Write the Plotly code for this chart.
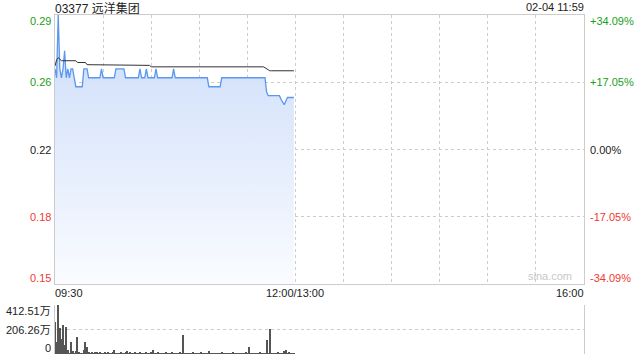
import plotly.graph_objects as go

# ---- data ----
stock_title = "03377 远洋集团"
stamp = "02-04 11:59"
prev_close = 0.22

minutes = list(range(150))  # trading minutes from 09:30

price = [
    0.265, 0.26, 0.295, 0.265, 0.26, 0.265, 0.275, 0.26, 0.265, 0.26,
    0.265, 0.265, 0.26, 0.255, 0.255, 0.255, 0.255, 0.255, 0.265, 0.265,
    0.265, 0.26, 0.26, 0.26, 0.26, 0.26, 0.26, 0.26, 0.26, 0.265,
    0.26, 0.26, 0.26, 0.26, 0.26, 0.26, 0.26, 0.26, 0.265, 0.265,
    0.265, 0.265, 0.265, 0.265, 0.26, 0.26, 0.26, 0.26, 0.26, 0.26,
    0.26, 0.26, 0.26, 0.265, 0.26, 0.26, 0.26, 0.265, 0.26, 0.26,
    0.26, 0.26, 0.26, 0.265, 0.26, 0.26, 0.26, 0.26, 0.26, 0.26,
    0.26, 0.26, 0.26, 0.26, 0.265, 0.26, 0.26, 0.26, 0.26, 0.26,
    0.26, 0.26, 0.26, 0.26, 0.26, 0.26, 0.26, 0.26, 0.26, 0.26,
    0.26, 0.26, 0.26, 0.26, 0.26, 0.26, 0.255, 0.255, 0.255, 0.255,
    0.255, 0.255, 0.255, 0.255, 0.26, 0.26, 0.26, 0.26, 0.26, 0.26,
    0.26, 0.26, 0.26, 0.26, 0.26, 0.26, 0.26, 0.26, 0.26, 0.26,
    0.26, 0.26, 0.26, 0.26, 0.26, 0.26, 0.26, 0.26, 0.26, 0.26,
    0.26, 0.26, 0.252, 0.25, 0.25, 0.25, 0.25, 0.25, 0.25, 0.25,
    0.25, 0.248, 0.246, 0.245, 0.247, 0.249, 0.249, 0.249, 0.249, 0.249,
]

avg_price = [
    0.2665, 0.2700, 0.2712, 0.2705, 0.2695, 0.2695, 0.2695, 0.2695, 0.2695, 0.2695,
    0.2695, 0.2695, 0.2695, 0.2695, 0.2685, 0.2685, 0.2685, 0.2685, 0.2685, 0.2685,
    0.2673, 0.2673, 0.2673, 0.2673, 0.2673, 0.2673, 0.2673, 0.2673, 0.2673, 0.2673,
    0.2673, 0.2673, 0.2673, 0.2673, 0.2673, 0.2673, 0.2673, 0.2673, 0.2673, 0.2673,
    0.2669, 0.2669, 0.2669, 0.2669, 0.2669, 0.2669, 0.2669, 0.2669, 0.2669, 0.2669,
    0.2669, 0.2669, 0.2669, 0.2669, 0.2669, 0.2669, 0.2669, 0.2669, 0.2669, 0.2669,
    0.2661, 0.2661, 0.2661, 0.2661, 0.2661, 0.2661, 0.2661, 0.2661, 0.2661, 0.2661,
    0.2661, 0.2661, 0.2661, 0.2661, 0.2661, 0.2661, 0.2661, 0.2661, 0.2661, 0.2661,
    0.2661, 0.2661, 0.2661, 0.2661, 0.2661, 0.2661, 0.2661, 0.2661, 0.2661, 0.2661,
    0.2661, 0.2661, 0.2661, 0.2661, 0.2661, 0.2661, 0.2661, 0.2661, 0.2661, 0.2661,
    0.2661, 0.2661, 0.2661, 0.2661, 0.2661, 0.2661, 0.2661, 0.2661, 0.2661, 0.2661,
    0.2661, 0.2661, 0.2661, 0.2661, 0.2661, 0.2661, 0.2661, 0.2661, 0.2661, 0.2661,
    0.2661, 0.2661, 0.2661, 0.2661, 0.2661, 0.2661, 0.2661, 0.2661, 0.2661, 0.2661,
    0.2661, 0.2656, 0.2649, 0.2643, 0.2639, 0.2639, 0.2639, 0.2639, 0.2639, 0.2639,
    0.2639, 0.2639, 0.2639, 0.2639, 0.2639, 0.2639, 0.2639, 0.2639, 0.2639, 0.2639,
]

volume_wan = [
    273, 105, 412.51, 217, 126, 245, 78, 231, 36, 6,
    105, 22, 8, 22, 139, 12, 5, 8, 36, 105,
    55, 10, 8, 15, 6, 12, 10, 5, 14, 8,
    6, 9, 4, 12, 7, 5, 10, 35, 6, 8,
    5, 11, 7, 4, 9, 28, 6, 10, 5, 8,
    12, 4, 7, 9, 6, 5, 8, 11, 4, 6,
    9, 36, 7, 5, 10, 6, 4, 8, 5, 9,
    6, 4, 7, 10, 5, 8, 6, 4, 9, 5,
    160, 6, 8, 4, 7, 5, 10, 6, 4, 8,
    5, 9, 6, 4, 7, 8, 22, 5, 6, 4,
    8, 5, 7, 4, 10, 6, 5, 8, 4, 7,
    6, 9, 5, 4, 8, 6, 7, 5, 4, 9,
    6, 55, 5, 8, 4, 6, 7, 5, 9, 4,
    6, 8, 120, 5, 212, 6, 4, 7, 5, 9,
    6, 4, 8, 22, 36, 6, 9, 5, 7, 4,
]

price_ticks = [0.295, 0.2575, 0.22, 0.1825, 0.145]
price_labels = ["0.29", "0.26", "0.22", "0.18", "0.15"]
pct_labels = ["+34.09%", "+17.05%", "0.00%", "-17.05%", "-34.09%"]
label_colors = ["#1aa01a", "#1aa01a", "#222222", "#f03a32", "#f03a32"]

vol_ticks = [412.51, 206.26, 0]
vol_labels = ["412.51万", "206.26万", "0"]

time_ticks = [0, 150, 330]
time_labels = ["09:30", "12:00/13:00", "16:00"]
grid_minutes = [30, 60, 90, 120, 150, 180, 210, 240, 270, 300]

FONT = "Liberation Sans, Arial, Noto Sans CJK SC, sans-serif"
W, H = 640, 360
x_dom = [55 / W, 584 / W]
y_main = [(H - 284) / H, (H - 15) / H]
y_vol = [(H - 354) / H, (H - 305) / H]

fig = go.Figure()

fig.add_trace(go.Scatter(
    x=minutes, y=price, mode="lines",
    line=dict(color="#5b97ee", width=1.3, shape="linear"),
    fill="tozeroy",
    fillgradient=dict(type="vertical",
                      colorscale=[[0, "rgba(250,252,255,1)"], [1, "rgba(212,226,250,1)"]],
                      start=0.145, stop=0.265),
    xaxis="x", yaxis="y", hoverinfo="skip", showlegend=False,
))
fig.add_trace(go.Scatter(
    x=minutes, y=avg_price, mode="lines",
    line=dict(color="#333333", width=1),
    xaxis="x", yaxis="y", hoverinfo="skip", showlegend=False,
))
fig.add_trace(go.Bar(
    x=minutes, y=volume_wan, width=0.62,
    marker=dict(color="#555555", line=dict(width=0)),
    xaxis="x2", yaxis="y2", hoverinfo="skip", showlegend=False,
))

grid_col = "#cccccc"
fig.update_layout(
    width=W, height=H,
    margin=dict(l=0, r=0, t=0, b=0),
    paper_bgcolor="white", plot_bgcolor="white",
    font=dict(family=FONT, size=11, color="#222"),
    bargap=0,
    xaxis=dict(domain=x_dom, range=[0, 330], tickvals=grid_minutes,
               showticklabels=False, ticks="", showgrid=True,
               gridcolor=grid_col, griddash="dot", gridwidth=1,
               showline=True, mirror=True, linecolor=grid_col, linewidth=1,
               zeroline=False, anchor="y", fixedrange=True),
    yaxis=dict(domain=y_main, range=[0.145, 0.295], tickvals=price_ticks,
               showticklabels=False, ticks="", showgrid=True,
               gridcolor=grid_col, griddash="dot", gridwidth=1,
               showline=True, mirror=True, linecolor=grid_col, linewidth=1,
               zeroline=False, anchor="x", fixedrange=True),
    xaxis2=dict(domain=x_dom, range=[0, 330], showticklabels=False, ticks="",
                showgrid=False, showline=False, zeroline=False,
                anchor="y2", fixedrange=True),
    yaxis2=dict(domain=y_vol, range=[0, 412.51], tickvals=vol_ticks,
                showticklabels=False, ticks="", showgrid=True,
                gridcolor=grid_col, griddash="dot", gridwidth=1,
                showline=True, mirror=True, linecolor=grid_col, linewidth=1,
                zeroline=False, anchor="x2", fixedrange=True),
)

ann = []
n = len(price_ticks)
for i, (v, lab, pl, col) in enumerate(zip(price_ticks, price_labels, pct_labels, label_colors)):
    ys = -6 if i == 0 else (6 if i == n - 1 else 0)
    ann.append(dict(xref="x domain", yref="y", x=0, y=v, text=lab, showarrow=False,
                    xanchor="right", yanchor="middle", xshift=-2, yshift=ys,
                    font=dict(color=col, size=11, family=FONT)))
    ann.append(dict(xref="x domain", yref="y", x=1, y=v, text=pl, showarrow=False,
                    xanchor="left", yanchor="middle", xshift=4, yshift=ys,
                    font=dict(color=col, size=11, family=FONT)))
nv = len(vol_ticks)
for i, (v, lab) in enumerate(zip(vol_ticks, vol_labels)):
    ys = -6 if i == 0 else (6 if i == nv - 1 else 0)
    ann.append(dict(xref="x2 domain", yref="y2", x=0, y=v, text=lab, showarrow=False,
                    xanchor="right", yanchor="middle", xshift=-2, yshift=ys,
                    font=dict(color="#222", size=11, family=FONT)))
anchors = ["left", "center", "right"]
for t, lab, a in zip(time_ticks, time_labels, anchors):
    ann.append(dict(xref="x", yref="paper", x=t, y=(H - 293) / H, text=lab,
                    showarrow=False, xanchor=a, yanchor="middle",
                    xshift=(-2 if a == "left" else (2 if a == "right" else 0)),
                    font=dict(color="#222", size=11, family=FONT)))
ann.append(dict(xref="x domain", yref="paper", x=0, y=(H - 8) / H, text=stock_title,
                showarrow=False, xanchor="left", yanchor="middle", xshift=-2,
                font=dict(color="#222", size=12, family=FONT)))
ann.append(dict(xref="x domain", yref="paper", x=1, y=(H - 7) / H, text=stamp,
                showarrow=False, xanchor="right", yanchor="middle", xshift=2,
                font=dict(color="#222", size=11, family=FONT)))
ann.append(dict(xref="x domain", yref="y", x=1, y=0.145, text="sina.com",
                showarrow=False, xanchor="right", yanchor="bottom", xshift=-10,
                font=dict(color="#c8c8c8", size=11, family=FONT)))
fig.update_layout(annotations=ann)

fig.write_html("out.html", config={"displayModeBar": False})
